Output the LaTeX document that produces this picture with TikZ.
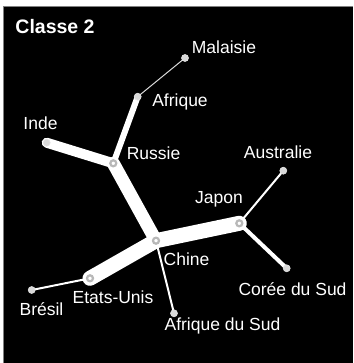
\documentclass[tikz,border=0pt]{standalone}
\usepackage{fontspec}
\setmainfont{Liberation Sans}
\begin{document}
\begin{tikzpicture}[x=1pt,y=-1pt,
  edge/.style={draw=white,line cap=round},
  leaf/.style={circle,fill=black!15,draw=black!10,line width=0.6pt,inner sep=0pt,minimum size=7pt},
  inner/.style={circle,fill=white,draw=black!28,line width=2.2pt,inner sep=0pt,minimum size=6pt},
  lbl/.style={text=white,font=\fontsize{17.5}{20}\selectfont,inner sep=0pt}]
\useasboundingbox (0,0) rectangle (353,363);
\fill[white] (0,0) rectangle (353,363);
\fill[black] (3,6) rectangle (353,363);
\draw[black!50,line width=1pt] (3.5,363) -- (3.5,6.5) -- (353,6.5);
% node positions
\coordinate (mal) at (185,58);
\coordinate (afr) at (137.7,96.7);
\coordinate (ind) at (46.7,142.7);
\coordinate (rus) at (113.3,163.3);
\coordinate (aus) at (283.3,170.7);
\coordinate (jap) at (239.3,223.3);
\coordinate (chi) at (156,240.7);
\coordinate (cor) at (286.7,268.3);
\coordinate (usa) at (90,278.3);
\coordinate (bre) at (31.7,290);
\coordinate (ads) at (174,313.3);
% edges
\draw[edge,line width=15pt] (chi) -- (usa);
\draw[edge,line width=15pt] (chi) -- (jap);
\draw[edge,line width=13pt] (chi) -- (rus);
\draw[edge,line width=10pt] (rus) -- (ind);
\draw[edge,line width=6pt] (rus) -- (afr);
\draw[edge,line width=1pt,draw=white!85!black] (afr) -- (mal);
\draw[edge,line width=4pt] (jap) -- (cor);
\draw[edge,line width=2pt] (jap) -- (aus);
\draw[edge,line width=2pt] (chi) -- (ads);
\draw[edge,line width=2pt] (usa) -- (bre);
% markers
\node[leaf] (nmal) at (mal) {};
\node[leaf] (nafr) at (afr) {};
\node[leaf] (nind) at (ind) {};
\node[leaf] (naus) at (aus) {};
\node[leaf] (ncor) at (cor) {};
\node[leaf] (nbre) at (bre) {};
\node[leaf] (nads) at (ads) {};
\node[inner] (nrus) at (rus) {};
\node[inner] (njap) at (jap) {};
\node[inner] (nchi) at (chi) {};
\node[inner] (nusa) at (usa) {};
% labels
\node[lbl,font=\fontsize{19.5}{22}\selectfont\bfseries] (title) at (55,27) {Classe 2};
\node[lbl] (lmal) at (224,47.5) {Malaisie};
\node[lbl] (lafr) at (180,101.5) {Afrique};
\node[lbl] (lind) at (40.5,123.5) {Inde};
\node[lbl] (lrus) at (153.5,153) {Russie};
\node[lbl] (laus) at (278,152.5) {Australie};
\node[lbl] (ljap) at (219,199) {Japon};
\node[lbl] (lchi) at (186.5,259.5) {Chine};
\node[lbl] (lcor) at (292.5,289) {Corée du Sud};
\node[lbl] (lusa) at (113,297) {Etats-Unis};
\node[lbl] (lbre) at (41.5,309) {Brésil};
\node[lbl] (lads) at (222.5,325.5) {Afrique du Sud};
\end{tikzpicture}
\end{document}
